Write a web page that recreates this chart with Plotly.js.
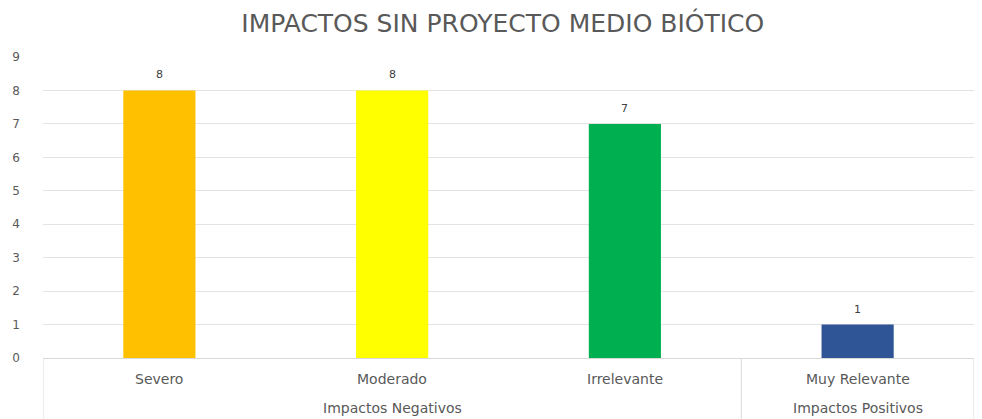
<!DOCTYPE html>
<html>
<head>
<meta charset="utf-8">
<script src="https://cdn.plot.ly/plotly-3.0.1.min.js"></script>
<style>html,body{margin:0;padding:0;background:#fff;}#chart{width:982px;height:419px;}</style>
</head>
<body>
<div id="chart"></div>
<script>
const groups = ["Impactos Negativos", "Impactos Negativos", "Impactos Negativos", "Impactos Positivos"];
const categories = ["Severo", "Moderado", "Irrelevante", "Muy Relevante"];
const values = [8, 8, 7, 1];
const barColors = ["#FFC000", "#FFFF00", "#00B050", "#2F5597"];
const yTicks = [0, 1, 2, 3, 4, 5, 6, 7, 8, 9];

const font = "'DejaVu Sans', 'Open Sans', sans-serif";
const labelColor = "#595959";
const lineColor = "#d9d9d9";

// group spans (by category index)
const groupNames = [];
const groupStart = {}, groupEnd = {};
groups.forEach((g, i) => {
  if (!(g in groupStart)) { groupNames.push(g); groupStart[g] = i; }
  groupEnd[g] = i;
});

const annotations = [];
// value labels
categories.forEach((c, i) => annotations.push({
  x: c, y: values[i], xref: "x", yref: "y", text: String(values[i]),
  showarrow: false, yanchor: "bottom", yshift: 7,
  font: {family: font, size: 11, color: "#404040"}
}));
// category labels
categories.forEach((c, i) => annotations.push({
  x: c, y: 0, xref: "x", yref: "paper", text: c,
  showarrow: false, yanchor: "middle", yshift: -21,
  font: {family: font, size: 14, color: labelColor}
}));
// group labels
groupNames.forEach(g => annotations.push({
  x: (groupStart[g] + groupEnd[g]) / 2, y: 0, xref: "x", yref: "paper", text: g,
  showarrow: false, yanchor: "middle", yshift: -50,
  font: {family: font, size: 14, color: labelColor}
}));

// dividers at group boundaries
const shapes = [];
const bounds = [-0.5];
groupNames.forEach(g => bounds.push(groupEnd[g] + 0.5));
bounds.forEach(b => shapes.push({
  type: "line", xref: "x", yref: "paper", x0: b, x1: b, y0: 0, y1: -0.21,
  line: {color: lineColor, width: 1}
}));

Plotly.newPlot("chart", [{
  type: "bar",
  x: categories,
  y: values,
  marker: {color: barColors, line: {width: 0}},
  width: 0.31,
  hoverinfo: "none"
}], {
  width: 982, height: 419,
  margin: {l: 43, r: 8, t: 57, b: 61},
  paper_bgcolor: "#fff", plot_bgcolor: "#fff",
  title: {text: "IMPACTOS SIN PROYECTO MEDIO BIÓTICO", x: 0.512, xanchor: "center", xref: "container",
          y: 0.945, yanchor: "middle",
          font: {family: font, size: 25, color: labelColor}},
  xaxis: {
    type: "category",
    range: [-0.5, categories.length - 0.5],
    showgrid: false,
    showline: true, linecolor: lineColor, linewidth: 1,
    showticklabels: false,
    ticks: ""
  },
  yaxis: {
    range: [0, 9],
    tickvals: yTicks,
    ticktext: yTicks.map(String),
    showgrid: true, gridcolor: "#e3e3e3", gridwidth: 1,
    zeroline: false, showline: false,
    ticklabelstandoff: 22,
    tickfont: {family: font, size: 12, color: labelColor}
  },
  annotations: annotations,
  shapes: shapes,
  showlegend: false
}, {displayModeBar: false, staticPlot: true});
</script>
</body>
</html>
